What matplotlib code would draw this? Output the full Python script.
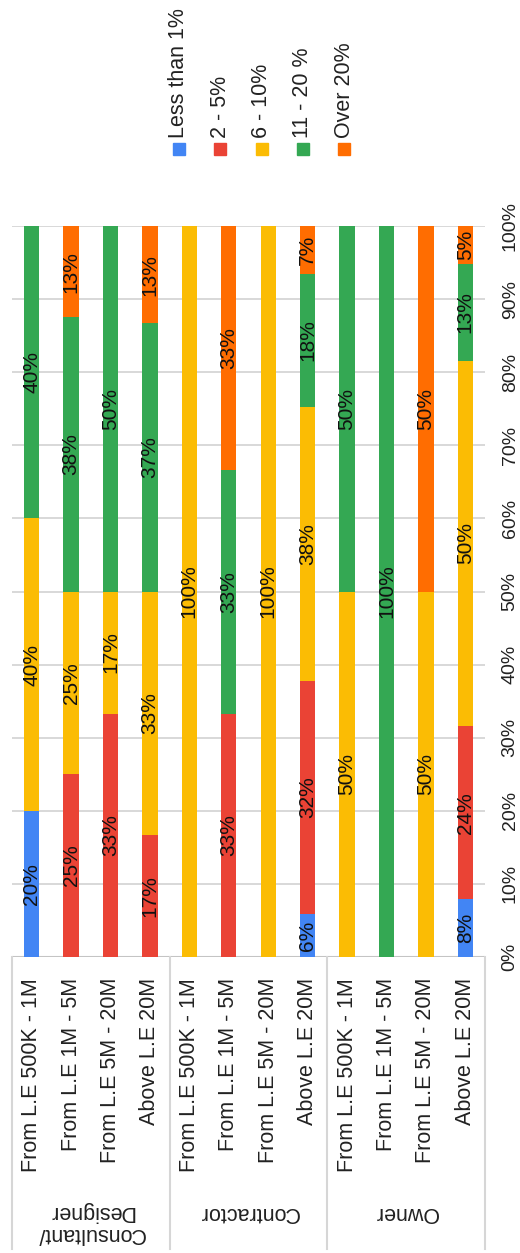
import matplotlib.pyplot as plt
from matplotlib.patches import Rectangle

plt.rcParams['font.family'] = ['Liberation Sans', 'DejaVu Sans']

# categories (12 bars, 3 groups of 4)
ranges = ["From L.E 500K - 1M", "From L.E 1M - 5M", "From L.E 5M - 20M", "Above L.E 20M"]
groups = ["Consultant/\nDesigner", "Contractor", "Owner"]
categories = ranges * 3

series_names = ["Less than 1%", "2 - 5%", "6 - 10%", "11 - 20 %", "Over 20%"]
less1 = [20, 0, 0, 0, 0, 0, 0, 5.9, 0, 0, 0, 7.9]
p2_5 = [0, 25, 33.3, 16.7, 0, 33.3, 0, 31.9, 0, 0, 0, 23.7]
p6_10 = [40, 25, 16.7, 33.3, 100, 0, 100, 37.5, 50, 0, 50, 50]
p11_20 = [40, 37.5, 50, 36.7, 0, 33.3, 0, 18.1, 50, 100, 0, 13.2]
over20 = [0, 12.5, 0, 13.3, 0, 33.4, 0, 6.6, 0, 0, 50, 5.2]
series = [less1, p2_5, p6_10, p11_20, over20]
colors = ['#4285F4', '#EA4335', '#FBBC04', '#34A853', '#FF6D01']

W, H = 520, 1253
fig = plt.figure(figsize=(W / 100, H / 100), dpi=100)
# plot area in pixels: x 12..485, y 226..957
ax = fig.add_axes([12 / W, (H - 957) / H, (485 - 12) / W, (957 - 226) / H])

x = list(range(len(categories)))
bottom = [0] * len(categories)
for vals, col in zip(series, colors):
    ax.bar(x, vals, bottom=bottom, width=0.39, color=col, zorder=2)
    for i, v in enumerate(vals):
        if v > 0:
            ax.text(i, bottom[i] + v / 2, f"{int(v + 0.5)}%", rotation=90,
                    ha='center', va='center', fontsize=15, color='#111111', zorder=3)
    bottom = [b + v for b, v in zip(bottom, vals)]

ax.set_xlim(-0.5, len(categories) - 0.5)
ax.set_ylim(0, 100)
ax.set_yticks(range(0, 101, 10))
ax.set_yticklabels([f"{t}%" for t in range(0, 101, 10)], rotation=90,
                   va='center', fontsize=14, color='#222222')
ax.yaxis.tick_right()
ax.tick_params(axis='y', length=0, pad=12)
ax.set_xticks(x)
ax.set_xticklabels(categories, rotation=90, va='top', ha='center',
                   fontsize=15.5, color='#222222')
ax.tick_params(axis='x', length=0, pad=15)
ax.grid(axis='y', color='#d6d6d6', linewidth=1.3, zorder=0)
ax.set_axisbelow(True)
for s in ax.spines.values():
    s.set_visible(False)
ax.axhline(0, color='#c4c4c4', linewidth=1.5, zorder=1)

# group separators and group labels below the axis
trans = ax.get_xaxis_transform()
for sep in [-0.5, 3.5, 7.5, 11.5]:
    ax.plot([sep, sep], [0, -0.40], color='#d6d6d6', linewidth=1.5,
            transform=trans, clip_on=False)
for g, name in enumerate(groups):
    yy = -0.363 if g == 0 else -0.349
    ax.text(g * 4 + 1.5, yy, name, rotation=180, ha='center', va='center',
            fontsize=15.5, color='#222222', transform=trans, linespacing=1.1)

# legend
for k, (name, col) in enumerate(zip(series_names, colors)):
    cx = 179 + k * 41.3
    fig.add_artist(Rectangle(((cx - 6) / W, (H - 155) / H), 12 / W, 12 / H,
                             color=col, transform=fig.transFigure))
    fig.text(cx / W, (H - 138) / H, name, rotation=90, ha='center', va='bottom',
             fontsize=15.5, color='#222222')

fig.savefig('out.png', dpi=100)
